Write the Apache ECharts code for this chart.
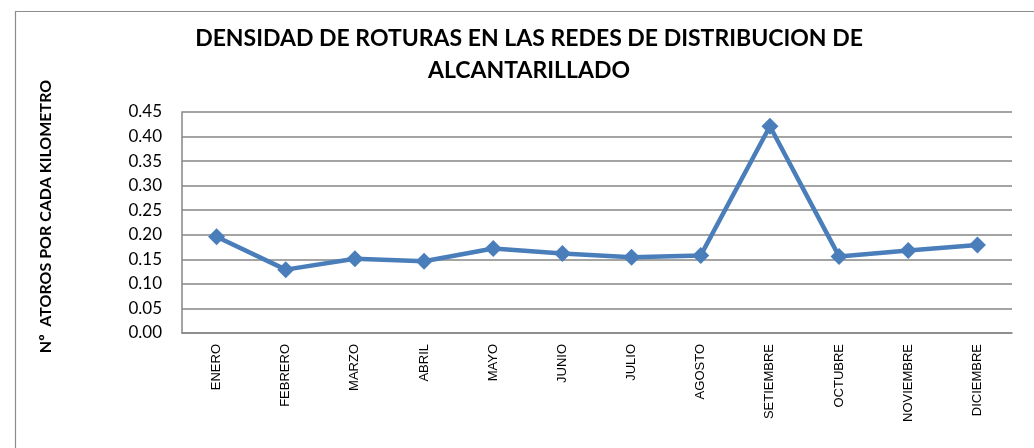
<!DOCTYPE html>
<html lang="es">
<head>
    <meta charset="UTF-8">
    <title>Densidad de roturas</title>
    <script src="https://cdn.jsdelivr.net/npm/echarts@6/dist/echarts.min.js"></script>
    <style>
        html, body { margin: 0; padding: 0; background: #fff; }
    </style>
</head>
<body>
    <div id="main" style="width: 1034px;height:448px;"></div>
    <script type="text/javascript">
        // months on the x axis
        const meses = ['ENERO', 'FEBRERO', 'MARZO', 'ABRIL', 'MAYO', 'JUNIO', 'JULIO',
            'AGOSTO', 'SETIEMBRE', 'OCTUBRE', 'NOVIEMBRE', 'DICIEMBRE'];
        // atoros por km
        const densidad = [0.196, 0.129, 0.151, 0.146, 0.172, 0.162, 0.154, 0.158, 0.421, 0.156, 0.168, 0.179];
        const yTicks = { min: 0, max: 0.45, step: 0.05 };

        let myChart = echarts.init(document.getElementById('main'));
        let options = {
            backgroundColor: '#fff',
            animation: false,
            title: {
                text: 'DENSIDAD DE ROTURAS EN LAS REDES DE DISTRIBUCION DE\nALCANTARILLADO',
                left: 524,
                textAlign: 'center',
                top: 18,
                textStyle: { fontFamily: 'Lato', fontWeight: 'bold', fontSize: 23, lineHeight: 32, color: '#000' }
            },
            // outer frame of the chart area
            graphic: [{
                type: 'rect',
                shape: { x: 15.5, y: 11.5, width: 1040, height: 460 },
                style: { fill: 'none', stroke: '#8c8c8c', lineWidth: 1.2 },
                silent: true
            }],
            grid: { left: 182, right: 22, top: 112, bottom: 115 },
            xAxis: {
                type: 'category',
                data: meses,
                boundaryGap: true,
                axisLine: { lineStyle: { color: '#868686', width: 1.5 } },
                axisTick: { show: false },
                axisLabel: { rotate: 90, margin: 11, fontFamily: 'Liberation Sans', fontSize: 13, color: '#000' }
            },
            yAxis: {
                type: 'value',
                min: yTicks.min,
                max: yTicks.max,
                interval: yTicks.step,
                name: 'Nº  ATOROS POR CADA KILOMETRO',
                nameLocation: 'middle',
                nameGap: 128,
                nameTextStyle: { fontFamily: 'Lato', fontWeight: 'bold', fontSize: 16, color: '#000', padding: [0, 0, 0, 12] },
                axisLine: { show: true, lineStyle: { color: '#868686', width: 1.5 } },
                axisTick: { show: false },
                splitLine: { lineStyle: { color: '#868686', width: 1.5 } },
                axisLabel: {
                    margin: 20, fontFamily: 'Lato', fontSize: 17, color: '#000',
                    formatter: v => v.toFixed(2)
                }
            },
            series: [{
                name: 'densidad',
                type: 'line',
                data: densidad,
                symbol: 'diamond',
                symbolSize: 17,
                showAllSymbol: true,
                lineStyle: { color: '#4A7EBB', width: 4.5 },
                itemStyle: { color: '#4A7EBB' }
            }]
        };
        myChart.setOption(options);
    </script>
</body>
</html>
